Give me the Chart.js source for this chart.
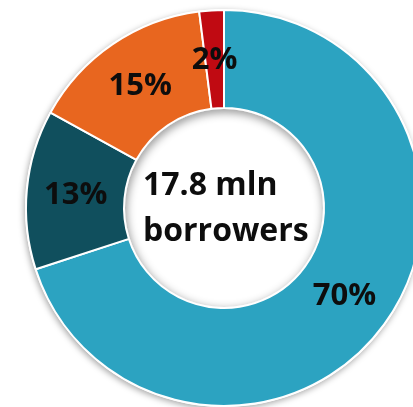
<!DOCTYPE html>
<html>
<head>
<meta charset="utf-8">
<script src="https://cdn.jsdelivr.net/npm/chart.js@4"></script>
<style>
  html, body { margin: 0; padding: 0; background: #fff; overflow: hidden; }
  #wrap { position: absolute; left: 0; top: 0; width: 448px; height: 416px; }
</style>
</head>
<body>
<div id="wrap"><canvas id="borrowersChart"></canvas></div>
<script>
// Borrower groups, clockwise from 12 o'clock
const groups = ['Group A', 'Group B', 'Group C', 'Group D'];
const shares = [70, 13, 15, 2];
const sliceColors = ['#2ca3c1', '#104f5d', '#e8661f', '#c00a12'];
const centerLines = ['17.8 mln', 'borrowers'];

const FONT = '"Open Sans", "Liberation Sans", sans-serif';

// soft drop shadow behind the ring
const ringShadow = {
    id: 'ringShadow',
    beforeDatasetsDraw(chart) {
        const arc = chart.getDatasetMeta(0).data[0];
        if (!arc) return;
        const ctx = chart.ctx;
        ctx.save();
        ctx.shadowColor = 'rgba(0,0,0,0.35)';
        ctx.shadowBlur = 6;
        ctx.shadowOffsetX = -1;
        ctx.shadowOffsetY = 2;
        ctx.fillStyle = '#fff';
        ctx.beginPath();
        ctx.arc(arc.x, arc.y, arc.outerRadius + 1, 0, Math.PI * 2);
        ctx.fill();
        ctx.restore();
    },
    afterDatasetsDraw(chart) {
        // inner shadow in the hole
        const arc = chart.getDatasetMeta(0).data[0];
        if (!arc) return;
        const ctx = chart.ctx;
        const r = arc.innerRadius - 1;
        ctx.save();
        ctx.beginPath();
        ctx.arc(arc.x, arc.y, r, 0, Math.PI * 2);
        ctx.clip();
        ctx.shadowColor = 'rgba(0,0,0,0.45)';
        ctx.shadowBlur = 10;
        ctx.shadowOffsetX = 1;
        ctx.shadowOffsetY = 3;
        ctx.strokeStyle = '#fff';
        ctx.lineWidth = 10;
        ctx.beginPath();
        ctx.arc(arc.x, arc.y, r + 5, 0, Math.PI * 2);
        ctx.stroke();
        ctx.restore();
    }
};

// percentage on each slice plus the caption in the hole
const sliceLabels = {
    id: 'sliceLabels',
    afterDraw(chart) {
        const meta = chart.getDatasetMeta(0);
        const ctx = chart.ctx;
        ctx.save();
        ctx.fillStyle = '#0d0d0d';
        ctx.textAlign = 'center';
        ctx.textBaseline = 'middle';
        ctx.font = 'bold 31px ' + FONT;
        meta.data.forEach((arc, i) => {
            const p = arc.getCenterPoint();
            ctx.fillText(shares[i] + '%', p.x, p.y + 1);
        });
        const c = meta.data[0];
        ctx.textAlign = 'left';
        ctx.font = 'bold 32px ' + FONT;
        ctx.fillText(centerLines[0], c.x - 81, c.y - 22);
        ctx.fillText(centerLines[1], c.x - 81, c.y + 24);
        ctx.restore();
    }
};

new Chart(document.getElementById('borrowersChart'), {
    type: 'doughnut',
    data: {
        labels: groups,
        datasets: [{
            data: shares,
            backgroundColor: sliceColors,
            borderColor: '#ffffff',
            borderWidth: 2,
            hoverOffset: 0
        }]
    },
    options: {
        responsive: true,
        maintainAspectRatio: false,
        animation: false,
        cutout: '50.5%',
        layout: { padding: 9 },
        plugins: {
            legend: { display: false },
            tooltip: { enabled: false }
        }
    },
    plugins: [ringShadow, sliceLabels]
});
</script>
</body>
</html>
